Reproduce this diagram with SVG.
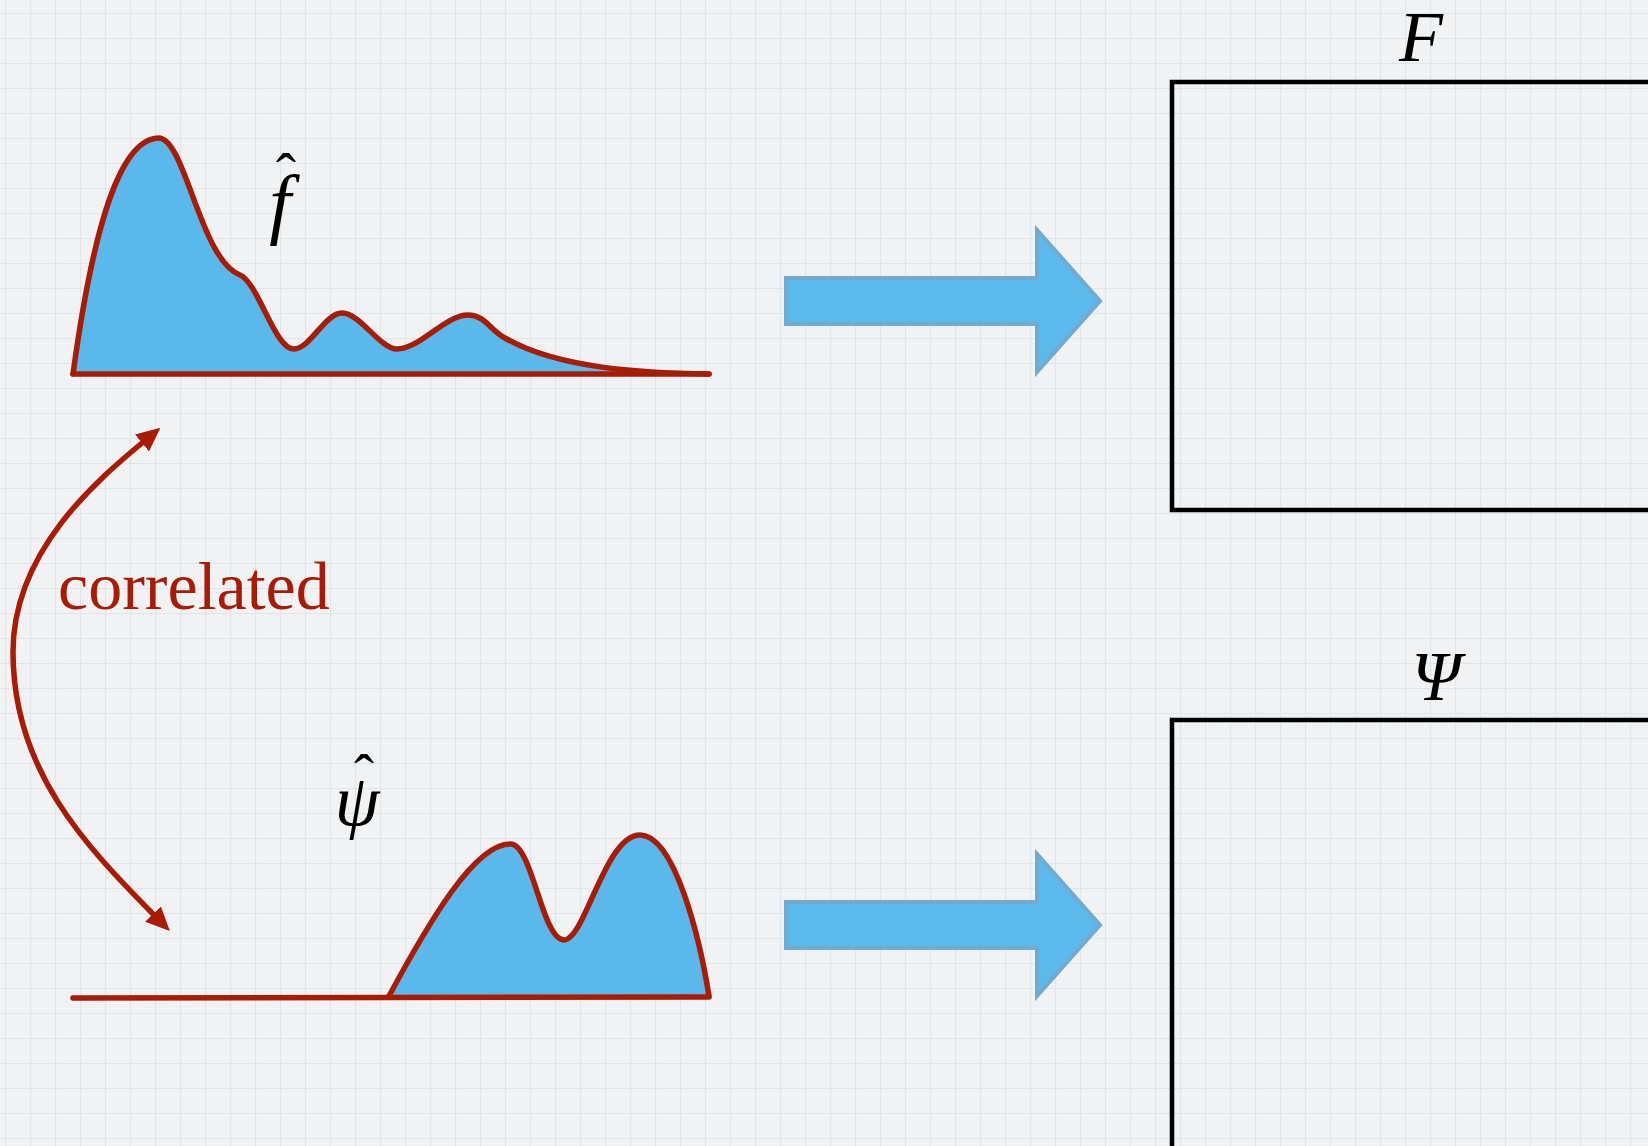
<svg xmlns="http://www.w3.org/2000/svg" width="1648" height="1146" viewBox="0 0 1648 1146">
<style>
.lbl{font-family:"Liberation Serif","Times New Roman",serif;font-style:italic;fill:#000}
.hat{font-style:normal}
.curve{fill:none;stroke:#a81c05;stroke-width:5.5;stroke-linejoin:round;stroke-linecap:round}
.area{fill:#5bb8ea;stroke:none}
.bigarrow{fill:#5bb9ec;stroke:#72abd0;stroke-width:4}
.box{fill:none;stroke:#000;stroke-width:4.5}
.corr{font-family:"Liberation Serif","Times New Roman",serif;fill:#a81c05;font-size:68px}
</style>
<defs>
<pattern id="grid" width="25" height="25" patternUnits="userSpaceOnUse" x="5" y="13">
<rect width="25" height="25" fill="#f1f2f3"/>
<path d="M0.5,0 V25 M0,0.5 H25" stroke="#dfe6ea" stroke-width="1.2" fill="none"/>
</pattern>
<marker id="ah" viewBox="0 0 24 22" refX="0" refY="11" markerWidth="24" markerHeight="22" markerUnits="userSpaceOnUse" orient="auto-start-reverse">
<path d="M0,0 L24,11 L0,22 z" fill="#a81c05"/>
</marker>
</defs>
<rect width="1648" height="1146" fill="url(#grid)"/>

<g id="f-hat-curve">
<path class="area" d="M73,374 C90,250 115,140 158,138 C185,136 200,260 240,275 C258,282 275,350 294,349 C310,349 325,313 342,313 C360,313 380,349 397,349 C420,349 445,315 468,315 C485,315 490,330 505,338 C560,370 650,373 709,374 Z"/>
<path class="curve" d="M73,374 C90,250 115,140 158,138 C185,136 200,260 240,275 C258,282 275,350 294,349 C310,349 325,313 342,313 C360,313 380,349 397,349 C420,349 445,315 468,315 C485,315 490,330 505,338 C560,370 650,373 709,374"/>
<line class="curve" x1="73" y1="374" x2="709" y2="374"/>
<text class="lbl" x="280" y="229" font-size="78" text-anchor="middle">f<tspan class="hat" x="286" y="194" font-size="60">ˆ</tspan></text>
</g>

<g id="psi-hat-curve">
<path class="area" d="M389,996 C430,920 475,844 510,844 C532,842 542,940 564,940 C585,940 605,835 640,835 C675,835 700,940 709,996 Z"/>
<path class="curve" d="M389,996 C430,920 475,844 510,844 C532,842 542,940 564,940 C585,940 605,835 640,835 C675,835 700,940 709,996"/>
<line class="curve" x1="73" y1="998" x2="709" y2="997"/>
<text class="lbl" x="357" y="825" font-size="72" text-anchor="middle">ψ<tspan class="hat" x="364" y="795" font-size="60">ˆ</tspan></text>
</g>

<g id="F-box">
<rect class="box" x="1172" y="82" width="520" height="428"/>
<text class="lbl" x="1421" y="61" font-size="72" text-anchor="middle">F</text>
</g>

<g id="Psi-box">
<rect class="box" x="1172" y="720" width="520" height="500"/>
<text class="lbl" x="1436" y="700" font-size="70" text-anchor="middle">Ψ</text>
</g>

<g id="correlated-label">
<text class="corr" x="58" y="609">correlated</text>
</g>

<g id="connectors">
<polygon class="bigarrow" points="786,278 1037,278 1037,230 1100,301 1037,372 1037,324 786,324"/>
<polygon class="bigarrow" points="786,902 1037,902 1037,854 1100,925 1037,996 1037,948 786,948"/>
<path class="curve" d="M142,443 C100,478 13,550 13,652 C13,770 85,845 153,914" marker-start="url(#ah)" marker-end="url(#ah)" stroke-linecap="butt"/>
</g>
</svg>
